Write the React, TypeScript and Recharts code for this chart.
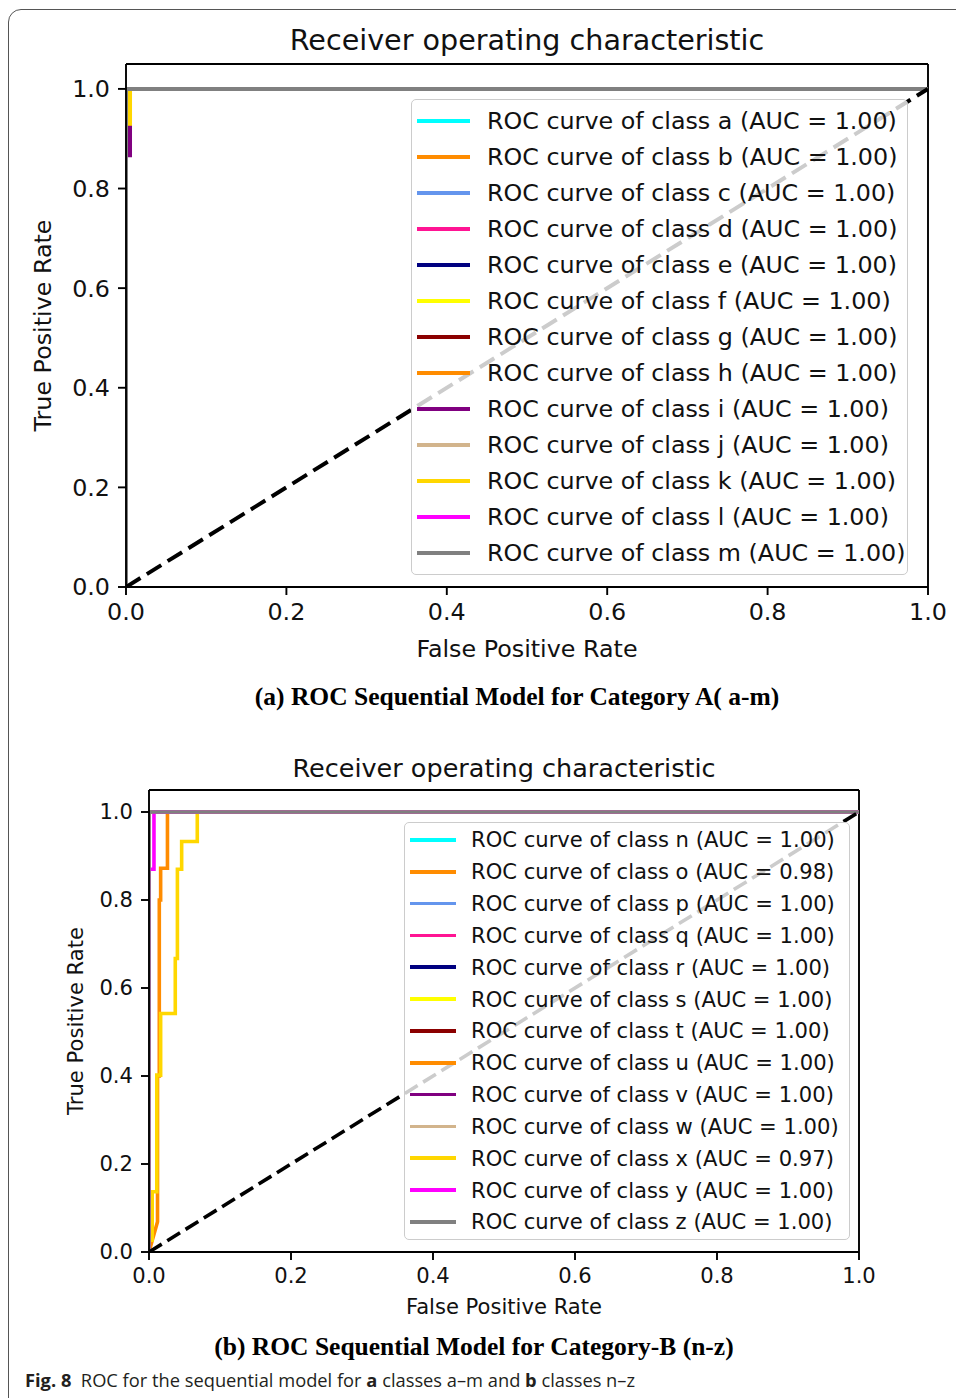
import React from "react";
import { LineChart, Line, XAxis, YAxis, ReferenceLine, Legend } from "recharts";

type Pt = { x: number; y: number };

const TICKS = [0, 0.2, 0.4, 0.6, 0.8, 1.0];

// matplotlib colour cycle used for both panels
const CLASS_COLORS = [
  "#00ffff", "#ff8c00", "#6495ed", "#ff1493", "#000080", "#ffff00", "#8b0000",
  "#ff8c00", "#800080", "#d2b48c", "#ffd700", "#ff00ff", "#808080",
];

const classesA = ["a", "b", "c", "d", "e", "f", "g", "h", "i", "j", "k", "l", "m"];
const aucA = [1.0, 1.0, 1.0, 1.0, 1.0, 1.0, 1.0, 1.0, 1.0, 1.0, 1.0, 1.0, 1.0];

const classesB = ["n", "o", "p", "q", "r", "s", "t", "u", "v", "w", "x", "y", "z"];
const aucB = [1.0, 0.98, 1.0, 1.0, 1.0, 1.0, 1.0, 1.0, 1.0, 1.0, 0.97, 1.0, 1.0];

// perfect classifier
const fprPerfect = [0, 0, 1];
const tprPerfect = [0, 1, 1];

// panel a, the only curves visible off the axis
const fprClassI = [0, 0, 0.005, 0.005, 1];
const tprClassI = [0, 0.867, 0.867, 1, 1];
const fprClassK = [0, 0, 0.005, 0.005, 1];
const tprClassK = [0, 0.93, 0.93, 1, 1];

// panel b
const fprClassO = [0, 0.012, 0.012, 0.0145, 0.0145, 0.0164, 0.0164, 0.026, 0.026, 1];
const tprClassO = [0, 0.069, 0.4, 0.4, 0.8, 0.8, 0.872, 0.872, 1, 1];
const fprClassX = [0, 0, 0.0045, 0.0045, 0.011, 0.011, 0.0164, 0.0164, 0.037, 0.037, 0.04, 0.04, 0.046, 0.046, 0.068, 0.068, 1];
const tprClassX = [0, 0.027, 0.027, 0.137, 0.137, 0.402, 0.402, 0.542, 0.542, 0.667, 0.667, 0.87, 0.87, 0.933, 0.933, 1, 1];
const fprClassY = [0, 0, 0.007, 0.007, 1];
const tprClassY = [0, 0.87, 0.87, 1, 1];

const diagFpr = [0, 1];
const diagTpr = [0, 1];

const zip = (xs: number[], ys: number[]): Pt[] => xs.map((x, i) => ({ x, y: ys[i] }));

const curvesA: Record<string, Pt[]> = {
  i: zip(fprClassI, tprClassI),
  k: zip(fprClassK, tprClassK),
};
const curvesB: Record<string, Pt[]> = {
  o: zip(fprClassO, tprClassO),
  x: zip(fprClassX, tprClassX),
  y: zip(fprClassY, tprClassY),
};

const FONT = "'DejaVu Sans', sans-serif";
const INK = "#111";

interface PanelProps {
  top: number;
  classes: string[];
  auc: number[];
  curves: Record<string, Pt[]>;
  margin: { top: number; right: number; bottom: number; left: number };
  height: number;
  xAxisHeight: number;
  font: number;
  lw: number;
  dash: string;
  yLabelDx: number;
  xLabelOffset: number;
  legend: { left: number; top: number; width: number; height: number; row: number; pad: number; handle: number; gap: number };
}

function RocLegend({ p }: { p: PanelProps }) {
  const l = p.legend;
  return (
    <div
      style={{
        boxSizing: "border-box",
        width: l.width,
        height: l.height,
        paddingTop: l.pad,
        background: "rgba(255,255,255,0.8)",
        border: "1.5px solid #cccccc",
        borderRadius: 5,
        fontFamily: FONT,
        fontSize: p.font,
        color: INK,
      }}
    >
      {p.classes.map((c, i) => (
        <div key={c} style={{ height: l.row, display: "flex", alignItems: "center", whiteSpace: "nowrap" }}>
          <span style={{ display: "inline-block", marginLeft: 5, width: l.handle, height: p.lw, background: CLASS_COLORS[i] }} />
          <span style={{ marginLeft: l.gap }}>{`ROC curve of class ${c} (AUC = ${p.auc[i].toFixed(2)})`}</span>
        </div>
      ))}
    </div>
  );
}

function RocPanel(p: PanelProps) {
  const tick = { fill: INK, fontSize: p.font, fontFamily: FONT };
  const axisStyle = { stroke: "#000", strokeWidth: 1.9 };
  return (
    <div style={{ position: "absolute", left: 0, top: p.top }}>
      <LineChart width={956} height={p.height} margin={p.margin} style={{ fontFamily: FONT }}>
        <XAxis
          type="number"
          dataKey="x"
          domain={[0, 1]}
          ticks={TICKS}
          interval={0}
          allowDataOverflow
          tickFormatter={(v: number) => v.toFixed(1)}
          tick={tick}
          tickSize={8}
          tickMargin={8}
          tickLine={axisStyle}
          axisLine={axisStyle}
          height={p.xAxisHeight}
          label={{ value: "False Positive Rate", position: "insideBottom", offset: p.xLabelOffset, fill: INK, fontSize: p.font, fontFamily: FONT }}
        />
        <YAxis
          type="number"
          dataKey="y"
          domain={[0, 1.05]}
          ticks={TICKS}
          interval={0}
          allowDataOverflow
          tickFormatter={(v: number) => v.toFixed(1)}
          tick={tick}
          tickSize={8}
          tickMargin={8}
          tickLine={axisStyle}
          axisLine={axisStyle}
          width={60}
          label={{ value: "True Positive Rate", angle: -90, position: "center", dx: p.yLabelDx, fill: INK, fontSize: p.font, fontFamily: FONT }}
        />
        <ReferenceLine y={1.05} stroke="#000" strokeWidth={1.9} />
        <ReferenceLine x={1} stroke="#000" strokeWidth={1.9} />
        {p.classes.map((c, i) => (
          <Line
            key={c}
            data={p.curves[c] ?? zip(fprPerfect, tprPerfect)}
            dataKey="y"
            type="linear"
            stroke={CLASS_COLORS[i]}
            strokeWidth={p.lw}
            dot={false}
            activeDot={false}
            legendType="none"
            isAnimationActive={false}
          />
        ))}
        <Line
          data={zip(diagFpr, diagTpr)}
          dataKey="y"
          type="linear"
          stroke="#000"
          strokeWidth={p.lw}
          strokeDasharray={p.dash}
          dot={false}
          activeDot={false}
          legendType="none"
          isAnimationActive={false}
        />
        <Legend
          layout="vertical"
          align="center"
          verticalAlign="middle"
          content={() => <RocLegend p={p} />}
          wrapperStyle={{ left: p.legend.left, top: p.legend.top, width: p.legend.width, height: p.legend.height }}
        />
      </LineChart>
    </div>
  );
}

const title = (left: number, width: number, top: number, size: number) => (
  <div style={{ position: "absolute", left, width, top, textAlign: "center", fontFamily: FONT, fontSize: size, lineHeight: 1, color: INK }}>
    Receiver operating characteristic
  </div>
);

const caption = (text: string, cx: number, top: number) => (
  <div
    style={{
      position: "absolute",
      left: cx - 400,
      width: 800,
      top,
      textAlign: "center",
      fontFamily: "'Liberation Serif', 'Times New Roman', serif",
      fontWeight: "bold",
      fontSize: 25.5,
      lineHeight: 1,
      color: "#000",
      whiteSpace: "nowrap",
    }}
  >
    {text}
  </div>
);

export default function App() {
  return (
    <div style={{ position: "absolute", left: 0, top: 0, width: 956, height: 1398, overflow: "hidden", background: "#fff" }}>
      <div
        style={{
          position: "absolute",
          left: 8,
          top: 9,
          width: 980,
          height: 1420,
          border: "1.5px solid #555",
          borderRadius: 13,
        }}
      />
      {title(126, 802, 26, 28.6)}
      <RocPanel
        top={0}
        classes={classesA}
        auc={aucA}
        curves={curvesA}
        margin={{ top: 64, right: 28, bottom: 43, left: 66 }}
        height={700}
        xAxisHeight={70}
        font={23.8}
        lw={4}
        dash="17 7.5"
        yLabelDx={-53}
        xLabelOffset={0}
        legend={{ left: 411, top: 99, width: 497, height: 476, row: 36, pad: 3, handle: 53, gap: 17 }}
      />
      {caption("(a) ROC Sequential Model for Category A( a-m)", 517, 684)}

      {title(149, 710, 756, 25.5)}
      <RocPanel
        top={720}
        classes={classesB}
        auc={aucB}
        curves={curvesB}
        margin={{ top: 70, right: 97, bottom: 43, left: 89 }}
        height={640}
        xAxisHeight={65}
        font={21.1}
        lw={3.6}
        dash="15 6.5"
        yLabelDx={-43}
        xLabelOffset={3}
        legend={{ left: 404, top: 102, width: 446, height: 418, row: 31.83, pad: 1, handle: 46, gap: 15 }}
      />
      {caption("(b) ROC Sequential Model for Category-B (n-z)", 474, 1334)}

      <div
        style={{
          position: "absolute",
          left: 25,
          top: 1371,
          fontFamily: "'Open Sans', sans-serif",
          fontSize: 18.3,
          lineHeight: 1,
          color: "#231f20",
          whiteSpace: "nowrap",
        }}
      >
        <b>Fig. 8</b>&nbsp; ROC for the sequential model for <b>a</b> classes a–m and <b>b</b> classes n–z
      </div>
    </div>
  );
}
